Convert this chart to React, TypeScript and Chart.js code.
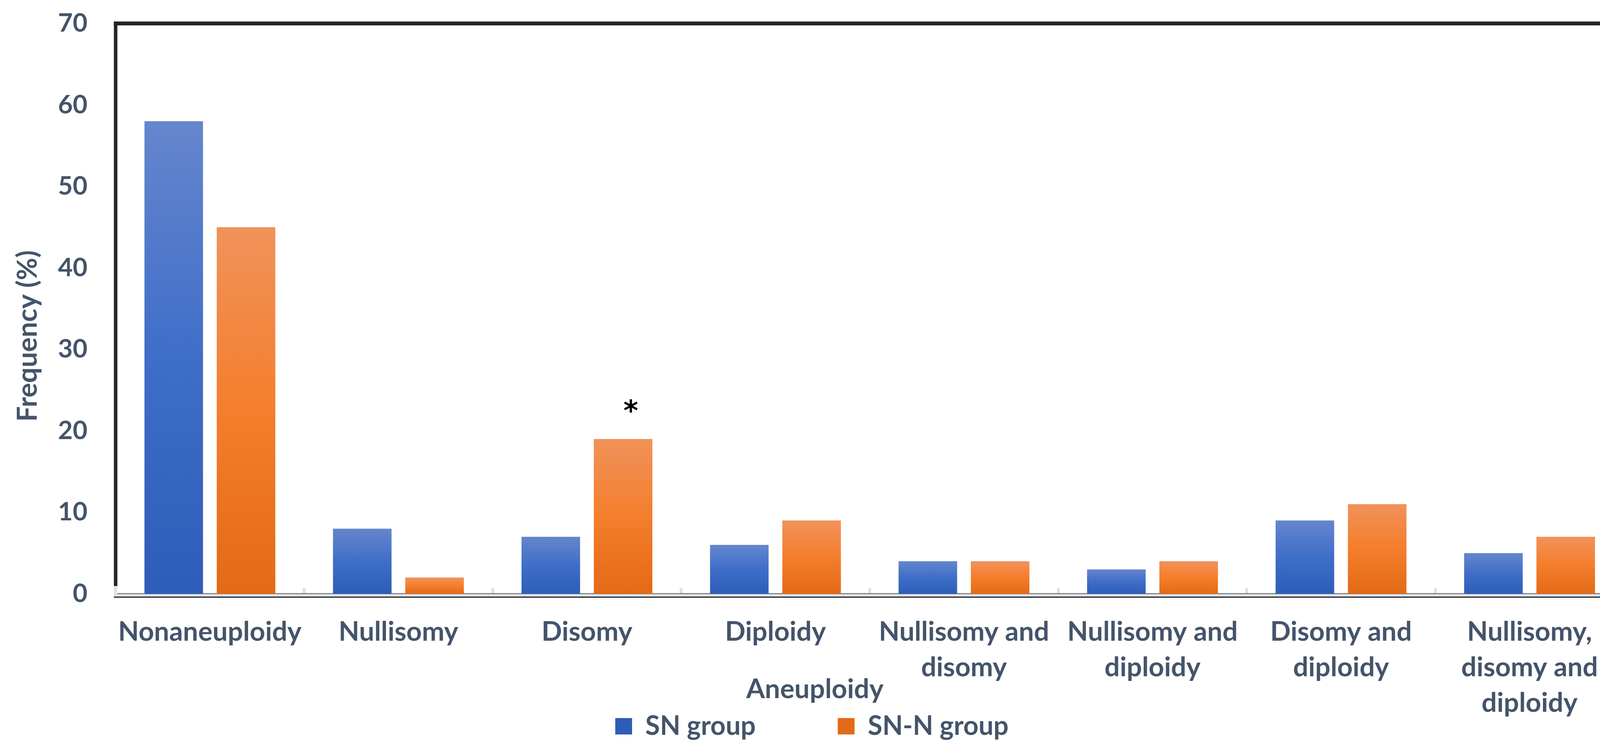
import React, { useEffect, useRef } from "react";
import { Chart, registerables } from "chart.js";

Chart.register(...registerables);

// ---- data ----
const categories: (string | string[])[] = [
  "Nonaneuploidy",
  "Nullisomy",
  "Disomy",
  "Diploidy",
  ["Nullisomy and", "disomy"],
  ["Nullisomy and", "diploidy"],
  ["Disomy and", "diploidy"],
  ["Nullisomy,", "disomy and", "diploidy"],
];
const seriesNames = ["SN group", "SN-N group"];
const snGroup = [58, 8, 7, 6, 4, 3, 9, 5];
const snNGroup = [45, 2, 19, 9, 4, 4, 11, 7];
const yMin = 0;
const yMax = 70;
const yStep = 10;
const yAxisTitle = "Frequency (%)";
const xAxisTitle = "Aneuploidy";
// significance marker: [datasetIndex, dataIndex, text]
const markers: [number, number, string][] = [[1, 2, "*"]];

// ---- style ----
const FONT = 'Lato, "Noto Sans", sans-serif';
const TEXT = "#44546A";
const BLUE = ["#6586CD", "#3F6EC8", "#2D5DB8"];
const ORANGE = ["#F1925A", "#F47E2C", "#E36A16"];
const LEGEND_TOP = 1615;
const LEGEND_PAD = 210;
const LEGEND_FONT = 68;

const makeFill = (stops: string[]) => (ctx: any) => {
  const solid = stops[1];
  if (ctx.type !== "data") return solid;
  const chart = ctx.chart;
  const y = chart.scales && chart.scales.y;
  if (!y) return solid;
  const top = y.getPixelForValue(ctx.raw);
  const base = y.getPixelForValue(0);
  if (!isFinite(top) || !isFinite(base) || Math.abs(base - top) < 1) return solid;
  const g = chart.ctx.createLinearGradient(0, top, 0, base);
  g.addColorStop(0, stops[0]);
  g.addColorStop(0.5, stops[1]);
  g.addColorStop(1, stops[2]);
  return g;
};

const decorPlugin = {
  id: "decor",
  afterLayout(chart: any) {
    const lg = chart.legend;
    if (lg) {
      const h = LEGEND_FONT + LEGEND_PAD + 10;
      lg.top = LEGEND_TOP;
      lg.height = h;
      lg.bottom = LEGEND_TOP + h;
    }
  },
  beforeDatasetsDraw(chart: any) {
    const { ctx, chartArea: a } = chart;
    const L = a.left, R = a.right, T = a.top, B = a.bottom;
    ctx.save();
    ctx.fillStyle = "#262626";
    ctx.fillRect(L - 4.5, T - 5, R - L + 9, 10);
    ctx.fillRect(L - 4.5, T - 5, 9, B - 20 - (T - 5));
    ctx.fillRect(R - 4.5, T - 5, 9, B - 20 - (T - 5));
    ctx.fillRect(L - 4.5, B + 7, R - L + 9, 3);
    ctx.fillStyle = "#DEE2EA";
    ctx.fillRect(L - 4.5, B - 20, 9, 27);
    ctx.fillRect(R - 4.5, B - 20, 9, 27);
    ctx.fillRect(L - 4.5, B + 1, R - L + 9, 6);
    ctx.fillStyle = "#8C8C8C";
    ctx.fillRect(L + 4.5, B - 2, R - L - 9, 3);
    ctx.restore();
  },
  afterDraw(chart: any) {
    const { ctx } = chart;
    ctx.save();
    ctx.fillStyle = TEXT;
    ctx.font = `bold 70px ${FONT}`;
    ctx.translate(94, 860);
    ctx.rotate(-Math.PI / 2);
    ctx.textAlign = "center";
    ctx.textBaseline = "alphabetic";
    ctx.fillText(yAxisTitle, 0, 0);
    ctx.restore();

    ctx.save();
    ctx.fillStyle = TEXT;
    ctx.font = `bold 69px ${FONT}`;
    ctx.textAlign = "center";
    ctx.textBaseline = "alphabetic";
    ctx.fillText(xAxisTitle, chart.width / 2 - 7, 1787);
    ctx.restore();

    markers.forEach(([ds, idx, txt]) => {
      const el = chart.getDatasetMeta(ds).data[idx];
      if (!el) return;
      const cx = el.x + 20;
      const cy = el.y - 66;
      ctx.save();
      ctx.fillStyle = "#000000";
      ctx.font = `bold 100px "DejaVu Sans", sans-serif`;
      let m = ctx.measureText(txt);
      const h0 = m.actualBoundingBoxAscent + m.actualBoundingBoxDescent;
      const size = h0 > 0 ? (100 * 34) / h0 : 60;
      ctx.font = `bold ${size}px "DejaVu Sans", sans-serif`;
      m = ctx.measureText(txt);
      ctx.textAlign = "left";
      ctx.textBaseline = "alphabetic";
      const x = cx - (m.actualBoundingBoxRight - m.actualBoundingBoxLeft) / 2;
      const y = cy + (m.actualBoundingBoxAscent - m.actualBoundingBoxDescent) / 2;
      ctx.fillText(txt, x, y);
      ctx.restore();
    });
  },
};

export default function App() {
  const ref = useRef<HTMLCanvasElement | null>(null);

  useEffect(() => {
    if (!ref.current) return;
    Chart.defaults.font.family = FONT;
    const chart = new Chart(ref.current, {
      type: "bar",
      data: {
        labels: categories,
        datasets: [
          {
            label: seriesNames[0],
            data: snGroup,
            backgroundColor: makeFill(BLUE),
            borderWidth: 0,
            categoryPercentage: 0.767,
            barPercentage: 0.81,
          },
          {
            label: seriesNames[1],
            data: snNGroup,
            backgroundColor: makeFill(ORANGE),
            borderWidth: 0,
            categoryPercentage: 0.767,
            barPercentage: 0.81,
          },
        ],
      },
      options: {
        responsive: false,
        devicePixelRatio: 1,
        animation: false,
        events: [],
        layout: { padding: { top: 60, right: 29, bottom: 0, left: 0 } },
        scales: {
          x: {
            type: "category",
            offset: true,
            grid: {
              display: true,
              drawOnChartArea: false,
              drawTicks: true,
              tickLength: -14,
              color: "#D9DEE6",
              lineWidth: 7,
              offset: true,
            },
            border: { display: false },
            ticks: {
              color: TEXT,
              font: { family: FONT, size: 69, weight: "bold", lineHeight: 1.32 },
              padding: 66,
              maxRotation: 0,
              minRotation: 0,
              autoSkip: false,
            },
            afterFit: (s: any) => {
              s.height = 409;
              s.paddingLeft = 0;
              s.paddingRight = 0;
            },
          },
          y: {
            min: yMin,
            max: yMax,
            ticks: {
              stepSize: yStep,
              color: TEXT,
              font: { family: FONT, size: 65, weight: "bold" },
              padding: 72,
            },
            grid: { display: false, drawTicks: false },
            border: { display: false },
            afterFit: (s: any) => {
              s.width = 296;
              s.paddingTop = 0;
              s.paddingBottom = 0;
            },
          },
        },
        plugins: {
          tooltip: { enabled: false },
          legend: {
            display: true,
            position: "bottom",
            maxHeight: 1,
            labels: {
              color: TEXT,
              font: { family: FONT, size: LEGEND_FONT, weight: "bold" },
              boxWidth: 43,
              boxHeight: 42,
              padding: LEGEND_PAD,
            },
          },
        },
      },
      plugins: [decorPlugin],
    } as any);
    return () => chart.destroy();
  }, []);

  return (
    <div
      style={{
        position: "fixed",
        left: 0,
        top: 0,
        width: 4186,
        height: 1930,
        background: "#ffffff",
      }}
    >
      <canvas
        ref={ref}
        width={4186}
        height={1930}
        style={{ display: "block", width: 4186, height: 1930 }}
      />
    </div>
  );
}
